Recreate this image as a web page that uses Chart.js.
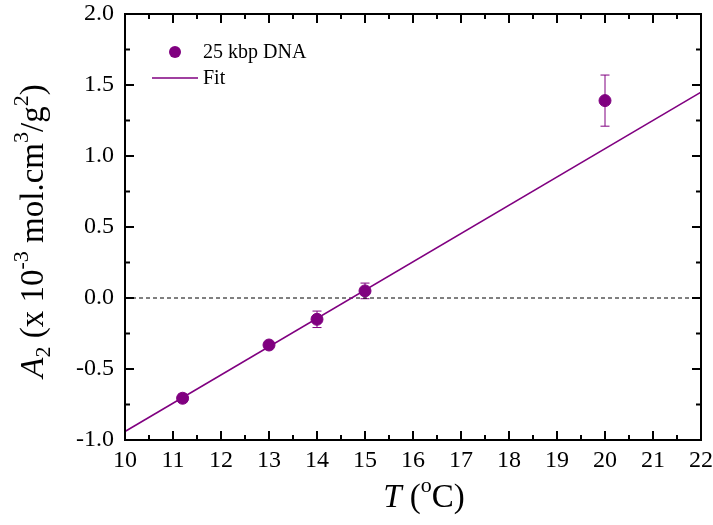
<!DOCTYPE html>
<html>
<head>
<meta charset="utf-8">
<script src="https://cdn.jsdelivr.net/npm/chart.js@4.4.0/dist/chart.umd.min.js"></script>
<style>
  html, body { margin: 0; padding: 0; background: #fff; }
</style>
</head>
<body>
<canvas id="a2Chart" width="713" height="525"></canvas>
<script>
// data
const temps = [11.2, 13, 14, 15, 20];
const a2Values = [-0.706, -0.331, -0.15, 0.05, 1.39];
const a2Errors = [0.03, 0.01, 0.058, 0.055, 0.18];
const fitT = [10, 22];
const fitA2 = [-0.94, 1.45];
const zeroT = [10, 22];
const zeroA2 = [0, 0];
const xTickValues = [10, 11, 12, 13, 14, 15, 16, 17, 18, 19, 20, 21, 22];
const yTickValues = [-1.0, -0.5, 0.0, 0.5, 1.0, 1.5, 2.0];

const purple = '#800080';
const serif = "'Liberation Serif', 'Times New Roman', serif";

function pts(xs, ys) {
  return xs.map((x, i) => ({ x: x, y: ys[i] }));
}

// draws a run of text pieces with sub/superscripts, centred on (cx, baseline)
function richText(ctx, parts, size, cx, cy, rotate) {
  const fontOf = p => (p.italic ? 'italic ' : '') + Math.round(p.sup || p.sub ? size * 0.68 : size) + 'px ' + serif;
  let total = 0;
  parts.forEach(p => { ctx.font = fontOf(p); total += ctx.measureText(p.t).width; });
  ctx.save();
  ctx.translate(cx, cy);
  if (rotate) ctx.rotate(-Math.PI / 2);
  ctx.fillStyle = '#000';
  ctx.textBaseline = 'alphabetic';
  ctx.textAlign = 'left';
  let x = -total / 2;
  parts.forEach(p => {
    ctx.font = fontOf(p);
    let dy = 0;
    if (p.sup) dy = -size * 0.45;
    if (p.sub) dy = size * 0.22;
    ctx.fillText(p.t, x, dy);
    x += ctx.measureText(p.t).width;
  });
  ctx.restore();
}

const framePlugin = {
  id: 'frame',
  beforeDatasetsDraw(chart) {
    const ctx = chart.ctx, xs = chart.scales.x, ys = chart.scales.y;
    ctx.save();
    ctx.strokeStyle = purple;
    ctx.lineWidth = 1;
    temps.forEach((t, i) => {
      const px = xs.getPixelForValue(t);
      const top = ys.getPixelForValue(a2Values[i] + a2Errors[i]);
      const bot = ys.getPixelForValue(a2Values[i] - a2Errors[i]);
      ctx.beginPath();
      ctx.moveTo(px, top); ctx.lineTo(px, bot);
      ctx.moveTo(px - 4.5, top); ctx.lineTo(px + 4.5, top);
      ctx.moveTo(px - 4.5, bot); ctx.lineTo(px + 4.5, bot);
      ctx.stroke();
    });
    ctx.restore();
  },
  afterDraw(chart) {
    const ctx = chart.ctx, a = chart.chartArea, xs = chart.scales.x, ys = chart.scales.y;
    ctx.save();
    ctx.strokeStyle = '#000';
    ctx.lineWidth = 2;
    ctx.strokeRect(a.left, a.top, a.right - a.left, a.bottom - a.top);

    // inward ticks on all four sides, minor ticks halfway
    ctx.beginPath();
    for (let i = 0; i < xTickValues.length; i++) {
      const px = xs.getPixelForValue(xTickValues[i]);
      ctx.moveTo(px, a.bottom); ctx.lineTo(px, a.bottom - 9);
      ctx.moveTo(px, a.top); ctx.lineTo(px, a.top + 9);
      if (i < xTickValues.length - 1) {
        const pm = xs.getPixelForValue((xTickValues[i] + xTickValues[i + 1]) / 2);
        ctx.moveTo(pm, a.bottom); ctx.lineTo(pm, a.bottom - 5);
        ctx.moveTo(pm, a.top); ctx.lineTo(pm, a.top + 5);
      }
    }
    for (let i = 0; i < yTickValues.length; i++) {
      const py = ys.getPixelForValue(yTickValues[i]);
      ctx.moveTo(a.left, py); ctx.lineTo(a.left + 9, py);
      ctx.moveTo(a.right, py); ctx.lineTo(a.right - 9, py);
      if (i < yTickValues.length - 1) {
        const pm = ys.getPixelForValue((yTickValues[i] + yTickValues[i + 1]) / 2);
        ctx.moveTo(a.left, pm); ctx.lineTo(a.left + 5, pm);
        ctx.moveTo(a.right, pm); ctx.lineTo(a.right - 5, pm);
      }
    }
    ctx.stroke();

    // legend
    ctx.fillStyle = purple;
    ctx.beginPath();
    ctx.arc(175, 52, 6, 0, Math.PI * 2);
    ctx.fill();
    ctx.strokeStyle = purple;
    ctx.lineWidth = 1.5;
    ctx.beginPath();
    ctx.moveTo(152, 78); ctx.lineTo(198, 78);
    ctx.stroke();
    ctx.fillStyle = '#000';
    ctx.font = '20px ' + serif;
    ctx.textBaseline = 'middle';
    ctx.textAlign = 'left';
    ctx.fillText('25 kbp DNA', 203, 53);
    ctx.fillText('Fit', 203, 79);
    ctx.restore();

    // axis titles
    richText(ctx, [
      { t: 'A', italic: true }, { t: '2', sub: true }, { t: ' (x 10' }, { t: '-3', sup: true },
      { t: ' mol.cm' }, { t: '3', sup: true }, { t: '/g' }, { t: '2', sup: true }, { t: ')' }
    ], 33, 43, (a.top + a.bottom) / 2 + 4, true);
    richText(ctx, [
      { t: 'T', italic: true }, { t: ' (' }, { t: 'o', sup: true }, { t: 'C)' }
    ], 33, (a.left + a.right) / 2 + 11, 507, false);
  }
};

const ctx = document.getElementById('a2Chart').getContext('2d');
new Chart(ctx, {
  type: 'scatter',
  data: {
    datasets: [{
      label: '25 kbp DNA',
      data: pts(temps, a2Values),
      backgroundColor: purple,
      borderColor: purple,
      pointRadius: 6,
      pointHoverRadius: 6,
      showLine: false
    }, {
      label: 'Fit',
      data: pts(fitT, fitA2),
      borderColor: purple,
      borderWidth: 1.5,
      pointRadius: 0,
      showLine: true
    }, {
      label: 'zero',
      data: pts(zeroT, zeroA2),
      borderColor: '#000',
      borderWidth: 1,
      borderDash: [4, 3],
      pointRadius: 0,
      showLine: true
    }]
  },
  options: {
    responsive: false,
    animation: false,
    devicePixelRatio: 1,
    layout: { padding: { left: 0, top: 0, right: 0, bottom: 0 } },
    plugins: {
      legend: { display: false },
      tooltip: { enabled: false }
    },
    scales: {
      x: {
        type: 'linear',
        min: 10, max: 22,
        afterBuildTicks: s => { s.ticks = xTickValues.map(v => ({ value: v })); },
        afterFit: s => { s.height = 85; s.paddingRight = 12; s.paddingLeft = 0; },
        grid: { display: false, drawTicks: false },
        border: { display: false },
        ticks: {
          color: '#000',
          padding: 6,
          maxRotation: 0,
          font: { family: serif, size: 24 },
          callback: v => String(v)
        }
      },
      y: {
        type: 'linear',
        min: -1, max: 2,
        afterBuildTicks: s => { s.ticks = yTickValues.map(v => ({ value: v })); },
        afterFit: s => { s.width = 125; s.paddingTop = 14; s.paddingBottom = 0; },
        grid: { display: false, drawTicks: false },
        border: { display: false },
        ticks: {
          color: '#000',
          padding: 11,
          font: { family: serif, size: 24 },
          callback: v => Number(v).toFixed(1)
        }
      }
    }
  },
  plugins: [framePlugin]
});
</script>
</body>
</html>
